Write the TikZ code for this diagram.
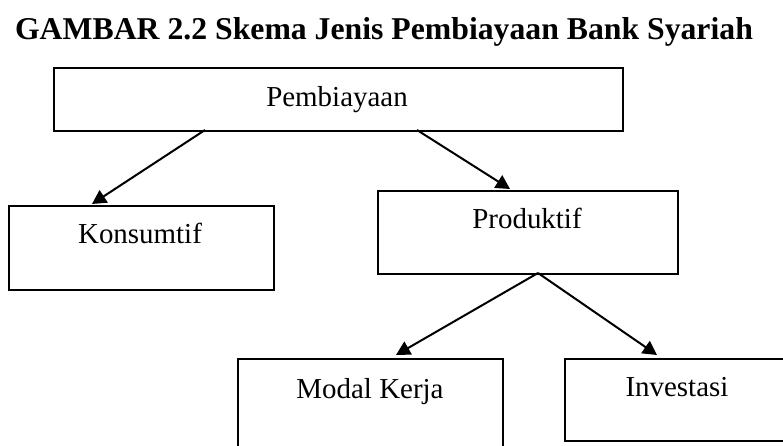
\documentclass[tikz,border=0pt]{standalone}
\usepackage{fontspec}
\setmainfont{Liberation Serif}
\usetikzlibrary{arrows.meta}
\begin{document}
\begin{tikzpicture}[x=0.75pt,y=-0.75pt,
  box/.style={draw,line width=1.5pt,inner sep=0pt,anchor=north west},
  lbl/.style={font=\fontsize{21.7}{26}\selectfont,anchor=base,inner sep=0pt},
  arr/.style={line width=1.5pt,-{Triangle[length=10.5pt,width=11pt]}}]
\useasboundingbox (0,0) rectangle (783,446);
\begin{scope}
\clip (0,0) rectangle (783,446);

% heading
\node[font=\bfseries\fontsize{23.8}{28}\selectfont,anchor=base,inner sep=0pt] (title) at (384,40)
  {GAMBAR 2.2 Skema Jenis Pembiayaan Bank Syariah};

% boxes
\node[box,minimum width=426.75pt,minimum height=47.25pt] (pemb) at (53,67) {};
\node[box,minimum width=198.75pt,minimum height=63pt] (kons) at (8,205) {};
\node[box,minimum width=225pt,minimum height=62.25pt] (prod) at (377,190) {};
\node[box,minimum width=198.75pt,minimum height=78pt] (modal) at (237,358) {};
\node[box,minimum width=177pt,minimum height=61.5pt] (inv) at (564,358) {};

% labels
\node[lbl] (pembtxt) at (337,106) {Pembiayaan};
\node[lbl] (konstxt) at (140,243) {Konsumtif};
\node[lbl] (prodtxt) at (527,228) {Produktif};
\node[lbl] (modaltxt) at (370,398) {Modal Kerja};
\node[lbl] (invtxt) at (677,396) {Investasi};

% connector ends
\coordinate (p1) at (205,130);
\coordinate (p2) at (417,130);
\coordinate (k1) at (92,204);
\coordinate (r1) at (510,189);
\coordinate (q0) at (538,273);
\coordinate (m1) at (396,355);
\coordinate (i1) at (657,355);

\draw[arr] (p1) -- (k1);
\draw[arr] (p2) -- (r1);
\draw[arr] (q0) -- (m1);
\draw[arr] (q0) -- (i1);
\end{scope}
\end{tikzpicture}
\end{document}
